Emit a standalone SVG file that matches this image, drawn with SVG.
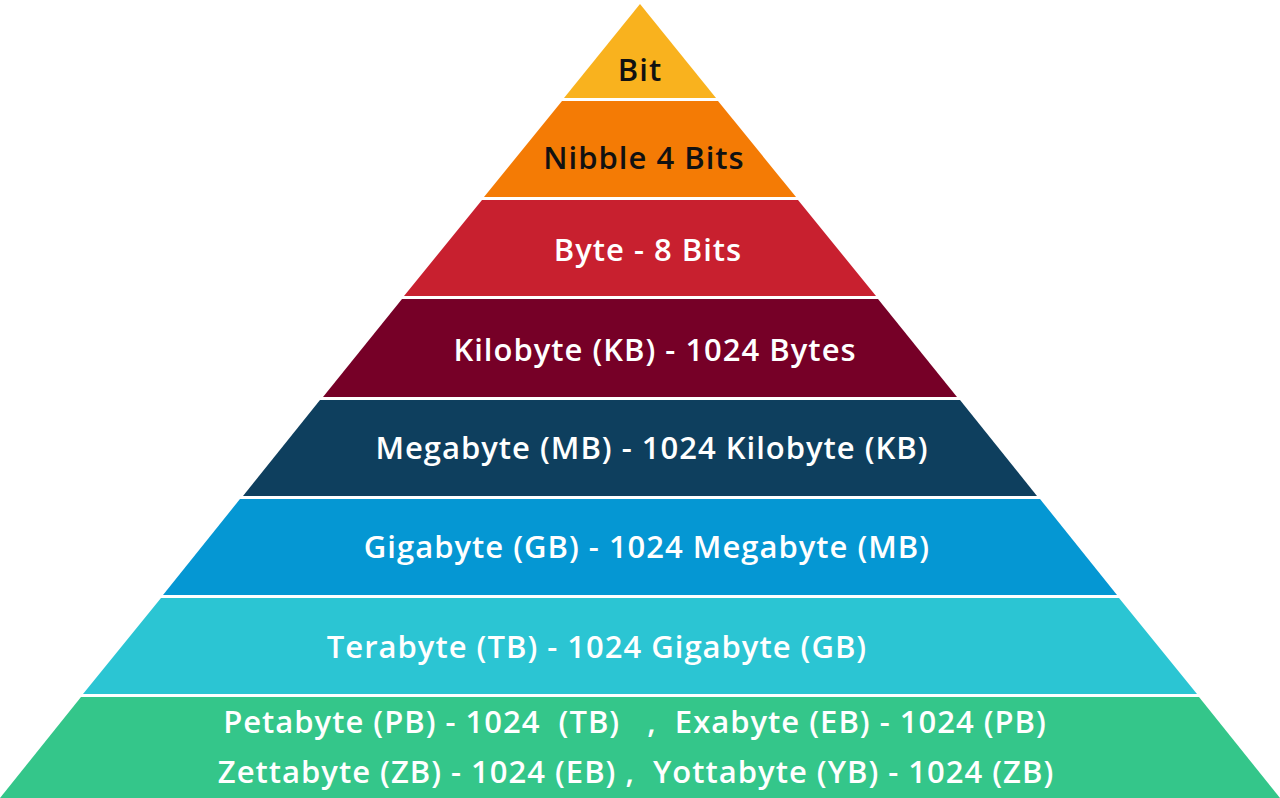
<svg xmlns="http://www.w3.org/2000/svg" width="1280" height="798" viewBox="0 0 1280 798">
<style>
text{font-family:"Open Sans","Noto Sans","Liberation Sans",sans-serif;font-size:31px;font-weight:600;letter-spacing:1px;text-anchor:middle;dominant-baseline:central;fill:#fff;white-space:pre}
.d{fill:#111}
</style>
<rect width="1280" height="798" fill="#fff"/>
<g id="bit"><polygon points="640,4 716,98 564,98" fill="#F9B21E"/><text class="d" x="640" y="69">Bit</text></g>
<g id="nibble"><polygon points="562,101 718,101 796,197 484,197" fill="#F47B05"/><text class="d" x="644" y="157">Nibble 4 Bits</text></g>
<g id="byte"><polygon points="482,200 798,200 876,296 404,296" fill="#C8202F"/><text x="648" y="249">Byte - 8 Bits</text></g>
<g id="kb"><polygon points="402,299 878,299 957,397 323,397" fill="#760027"/><text x="655" y="349">Kilobyte (KB) - 1024 Bytes</text></g>
<g id="mb"><polygon points="320,400 960,400 1037,496 243,496" fill="#0E3F5E"/><text x="652" y="447">Megabyte (MB) - 1024 Kilobyte (KB)</text></g>
<g id="gb"><polygon points="240,499 1040,499 1117,595 163,595" fill="#0597D3"/><text x="647" y="546">Gigabyte (GB) - 1024 Megabyte (MB)</text></g>
<g id="tb"><polygon points="161,598 1119,598 1197,694 83,694" fill="#2BC5D3"/><text x="597" y="646">Terabyte (TB) - 1024 Gigabyte (GB)</text></g>
<g id="pb"><polygon points="81,697 1199,697 1280,798 0,798" fill="#34C68A"/>
<text x="635" y="721" xml:space="preserve">Petabyte (PB) - 1024  (TB)   ,  Exabyte (EB) - 1024 (PB)</text>
<text x="636" y="771" xml:space="preserve">Zettabyte (ZB) - 1024 (EB) ,  Yottabyte (YB) - 1024 (ZB)</text></g>
<g id="connectors"/>
</svg>
